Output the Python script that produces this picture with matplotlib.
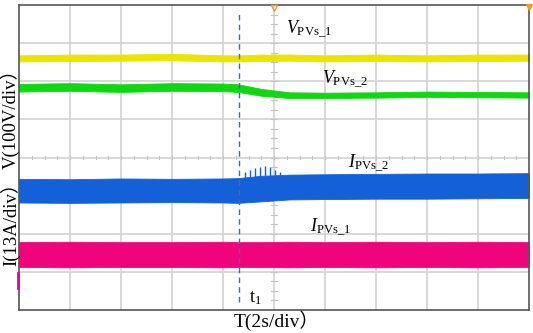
import numpy as np
import matplotlib
matplotlib.use('Agg')
import matplotlib.pyplot as plt

# time axis: 10 div x 2 s, vertical: 8 div (voltage top, current bottom)
t_env = [0, 2, 4, 6, 8, 8.6, 9.5, 10.6, 12, 14, 16, 18, 20]

# V_PVs_1 band (div)
v1_top = [6.68, 6.70, 6.70, 6.72, 6.68, 6.68, 6.70, 6.70, 6.68, 6.70, 6.68, 6.70, 6.70]
v1_bot = [6.52, 6.53, 6.54, 6.55, 6.52, 6.52, 6.53, 6.54, 6.52, 6.53, 6.52, 6.53, 6.54]
# V_PVs_2 band
v2_top = [5.93, 5.95, 5.92, 5.95, 5.94, 5.92, 5.80, 5.71, 5.70, 5.71, 5.73, 5.72, 5.71]
v2_bot = [5.73, 5.75, 5.72, 5.75, 5.74, 5.72, 5.62, 5.56, 5.56, 5.57, 5.59, 5.58, 5.57]
# I_PVs_2 band
i2_top = [3.44, 3.43, 3.45, 3.44, 3.45, 3.46, 3.52, 3.55, 3.56, 3.57, 3.58, 3.58, 3.59]
i2_bot = [2.82, 2.81, 2.82, 2.83, 2.82, 2.81, 2.85, 2.90, 2.91, 2.92, 2.92, 2.93, 2.94]
# I_PVs_1 band
i1_top = [1.78, 1.79, 1.78, 1.78, 1.79, 1.78, 1.78, 1.79, 1.78, 1.79, 1.78, 1.79, 1.78]
i1_bot = [1.13, 1.12, 1.13, 1.13, 1.12, 1.13, 1.13, 1.12, 1.13, 1.12, 1.13, 1.12, 1.13]

# spikes on I_PVs_2 right after t1
spike_t = [8.86, 9.06, 9.25, 9.45, 9.65, 9.84, 10.04, 10.24]
spike_top = [3.62, 3.67, 3.72, 3.75, 3.78, 3.75, 3.67, 3.62]
spike_base = [3.46, 3.47, 3.49, 3.50, 3.51, 3.52, 3.53, 3.54]

t1 = 8.63

c_yellow = '#e8e600'
c_green = '#10d810'
c_blue = '#1460d8'
c_pink = '#f0047c'

plt.rcParams['mathtext.fontset'] = 'custom'
plt.rcParams['mathtext.rm'] = 'Liberation Serif'
plt.rcParams['mathtext.it'] = 'Liberation Serif:italic'
serif = ['Liberation Serif', 'Noto Sans CJK SC']

fig = plt.figure(figsize=(5.33, 3.33), dpi=100)
ax = fig.add_axes([19 / 533, 23 / 333, 510 / 533, 305 / 333])
ax.set_xlim(0, 20)
ax.set_ylim(0, 8)

# grid
for x in np.arange(2, 20, 2):
    ax.axvline(x, color='#d6d6d6', lw=1.3, zorder=0)
for y in np.arange(1, 8, 1):
    ax.axhline(y, color='#d6d6d6', lw=1.3, zorder=0)
# minor ticks on centre lines
for x in np.arange(0.5, 20, 0.5):
    ax.plot([x, x], [3.95, 4.05], color='#c4c4c4', lw=0.8, zorder=0)
for y in np.arange(0.25, 8, 0.25):
    ax.plot([9.9, 10.1], [y, y], color='#c4c4c4', lw=0.8, zorder=0)

ax.fill_between(t_env, v1_bot, v1_top, color=c_yellow, lw=0.6, edgecolor=c_yellow, zorder=2)
ax.fill_between(t_env, v2_bot, v2_top, color=c_green, lw=0.6, edgecolor=c_green, zorder=2)
ax.fill_between(t_env, i2_bot, i2_top, color=c_blue, lw=0.6, edgecolor=c_blue, zorder=2)
ax.vlines(spike_t, spike_base, spike_top, color=c_blue, lw=1.0, zorder=2)
ax.fill_between(t_env, i1_bot, i1_top, color=c_pink, lw=0.6, edgecolor=c_pink, zorder=2)

ax.plot([t1, t1], [0.2, 7.8], color='#4a68a8', lw=1.0, ls=(0, (4, 3)), zorder=3)

# channel markers
ax.plot([-0.03, -0.03], [0.58, 0.97], color=c_pink, lw=2.0, clip_on=False, zorder=4)
ax.plot([10], [7.93], marker='v', ms=5, mfc='none', mec='#f0a020', clip_on=False, zorder=4)
ax.plot([20], [7.95], marker='v', ms=5, color='#f0a020', clip_on=False, zorder=4)

ax.set_xticks([])
ax.set_yticks([])
for s in ax.spines.values():
    s.set_color('#555555')
    s.set_linewidth(1.2)

ax.text(10.47, 7.24, r'$V_{\mathrm{PVs\_1}}$', fontsize=13, va='baseline')
ax.text(11.88, 5.95, r'$V_{\mathrm{PVs\_2}}$', fontsize=13, va='baseline')
ax.text(12.9, 3.75, r'$I_{\mathrm{PVs\_2}}$', fontsize=13, va='baseline')
ax.text(11.41, 2.05, r'$I_{\mathrm{PVs\_1}}$', fontsize=13, va='baseline')
ax.text(9.02, 0.21, r'$\mathrm{t}_1$', fontsize=13, va='baseline')

fig.text(10 / 533, 1 - 114 / 333, 'V(100V/div）', rotation=90, ha='center', va='center',
         fontsize=13.5, family=serif)
fig.text(10 / 533, 1 - 220 / 333, 'I(13A/div）', rotation=90, ha='center', va='center',
         fontsize=13.5, family=serif)
fig.text(277 / 533, 1 - 321 / 333, 'T(2s/div）', ha='center', va='center',
         fontsize=14, family=serif)

fig.savefig('out.png', dpi=100)
